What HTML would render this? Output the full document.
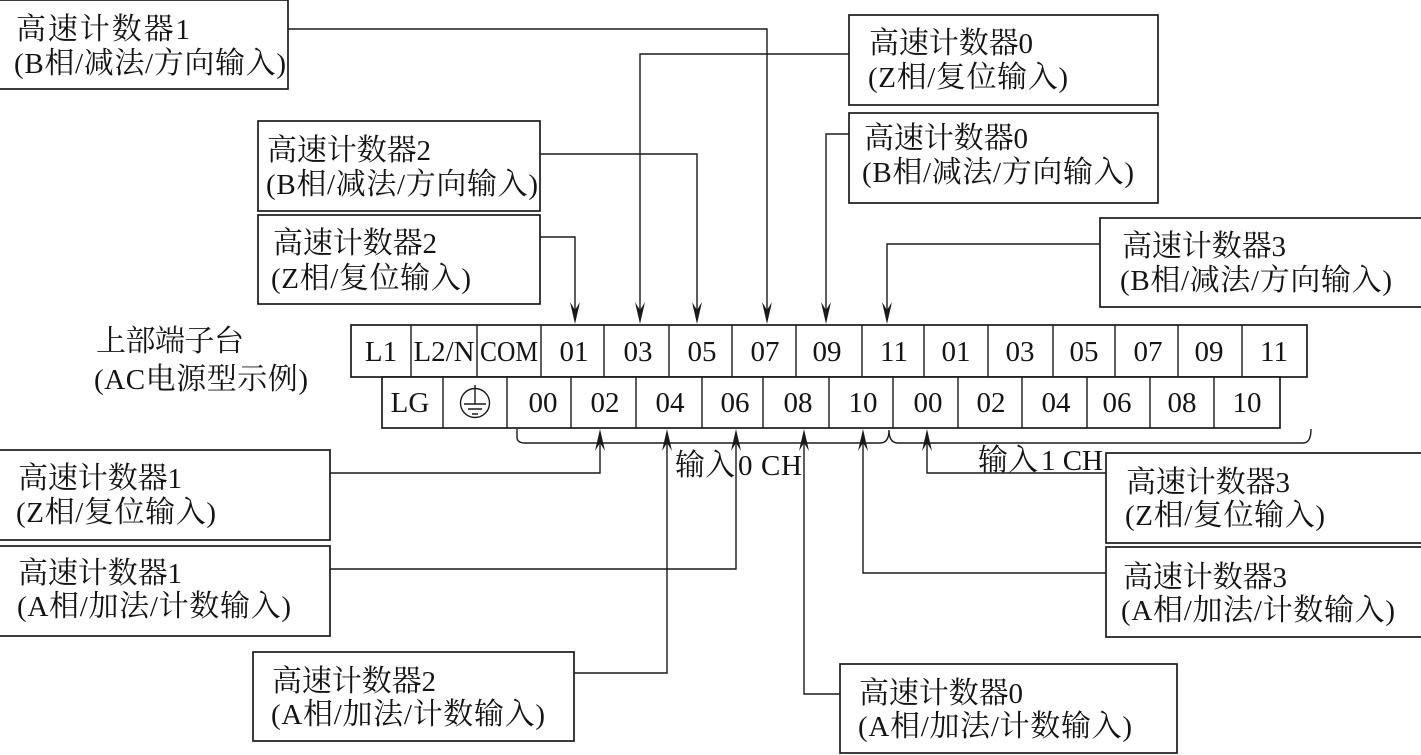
<!DOCTYPE html>
<html><head><meta charset="utf-8"><style>
html,body{margin:0;padding:0;background:#fff}
svg{display:block}
text{font-family:"Liberation Serif","Noto Serif CJK SC",serif;font-size:29px;fill:#141414}
tspan{font-size:30px}
.l{stroke:#1a1a1a;stroke-width:1.4;fill:none}
.b{stroke:#1a1a1a;stroke-width:1.7;fill:#fff}
.a{fill:#1a1a1a}
</style></head><body>
<svg xmlns="http://www.w3.org/2000/svg" width="1421" height="755" viewBox="0 0 1421 755">
<defs>
<path id="d" class="a" d="M0 0L-5 -22L0 -14L5 -22Z"/>
<path id="u" class="a" d="M0 0L-5 22L0 14L5 22Z"/>
</defs>
<!-- connectors -->
<path class="l" d="M288 29H767V320M849 54H640V320M540 154H697V320M849 134H826V320M540 237H575V320M1100 244H887V320"/>
<path class="l" d="M330 473H600V434M330 569H736V434M574 673H667V434M840 694H804V434M1106 573H863V434M1106 473H927V434"/>
<use href="#d" x="767" y="324"/><use href="#d" x="640" y="324"/><use href="#d" x="697" y="324"/><use href="#d" x="826" y="324"/><use href="#d" x="575" y="324"/><use href="#d" x="887" y="324"/>
<use href="#u" x="600" y="429"/><use href="#u" x="667" y="429"/><use href="#u" x="736" y="429"/><use href="#u" x="804" y="429"/><use href="#u" x="863" y="429"/><use href="#u" x="927" y="429"/>
<!-- braces -->
<path class="l" d="M517 429V437Q517 443 525 443H880Q889 443 889 430Q889 443 898 443H1303Q1311 443 1311 429"/>
<!-- terminal strip -->
<rect class="b" x="351" y="325" width="956" height="52"/>
<rect class="b" x="382" y="377" width="898" height="51"/>
<path class="l" d="M411 325V377M477 325V377M541 325V377M604 325V377M669 325V377M732 325V377M796 325V377M862 325V377M924 325V377M988 325V377M1053 325V377M1115 325V377M1178 325V377M1242 325V377"/>
<path class="l" d="M443 377V428M507 377V428M571 377V428M636 377V428M702 377V428M763 377V428M829 377V428M893 377V428M958 377V428M1022 377V428M1087 377V428M1150 377V428M1214 377V428"/>
<g text-anchor="middle">
<text x="381" y="361">L1</text><text x="444" y="361" textLength="61" lengthAdjust="spacingAndGlyphs">L2/N</text><text x="509" y="361" textLength="58" lengthAdjust="spacingAndGlyphs">COM</text>
<text x="574" y="361">01</text><text x="638" y="361">03</text><text x="702" y="361">05</text><text x="765" y="361">07</text><text x="827" y="361">09</text><text x="894" y="361">11</text><text x="956" y="361">01</text><text x="1020" y="361">03</text><text x="1084" y="361">05</text><text x="1148" y="361">07</text><text x="1209" y="361">09</text><text x="1274" y="361">11</text>
<text x="410" y="412">LG</text><text x="543" y="412">00</text><text x="605" y="412">02</text><text x="670" y="412">04</text><text x="735" y="412">06</text><text x="798" y="412">08</text><text x="863" y="412">10</text><text x="928" y="412">00</text><text x="991" y="412">02</text><text x="1056" y="412">04</text><text x="1117" y="412">06</text><text x="1182" y="412">08</text><text x="1247" y="412">10</text>
</g>
<!-- ground symbol -->
<circle class="l" cx="475" cy="403" r="14.5"/>
<path class="l" d="M475 385V404M464 404H486M468 409H482M472 414H478"/>
<!-- group labels -->
<text x="96" y="351" textLength="148"><tspan>上部端子台</tspan></text>
<text x="94" y="389" textLength="214">(AC<tspan>电源型示例</tspan>)</text>
<text x="675" y="475" textLength="60"><tspan>输入</tspan></text><text x="738" y="475" textLength="64">0 CH</text>
<text x="978" y="470" textLength="60"><tspan>输入</tspan></text><text x="1041" y="470" textLength="62">1 CH</text>
<!-- boxes -->
<rect class="b" x="-2" y="0" width="290" height="89"/>
<text x="16" y="39" textLength="174"><tspan>高速计数器</tspan>1</text><text x="14" y="73" textLength="272">(B<tspan>相</tspan>/<tspan>减法</tspan>/<tspan>方向输入</tspan>)</text>
<rect class="b" x="849" y="15" width="309" height="90"/>
<text x="869" y="53" textLength="164"><tspan>高速计数器</tspan>0</text><text x="868" y="87" textLength="200">(Z<tspan>相</tspan>/<tspan>复位输入</tspan>)</text>
<rect class="b" x="258" y="121" width="282" height="90"/>
<text x="267" y="160" textLength="164"><tspan>高速计数器</tspan>2</text><text x="266" y="194" textLength="272">(B<tspan>相</tspan>/<tspan>减法</tspan>/<tspan>方向输入</tspan>)</text>
<rect class="b" x="849" y="113" width="309" height="90"/>
<text x="864" y="148" textLength="164"><tspan>高速计数器</tspan>0</text><text x="862" y="182" textLength="272">(B<tspan>相</tspan>/<tspan>减法</tspan>/<tspan>方向输入</tspan>)</text>
<rect class="b" x="258" y="215" width="282" height="89"/>
<text x="273" y="253" textLength="164"><tspan>高速计数器</tspan>2</text><text x="271" y="288" textLength="200">(Z<tspan>相</tspan>/<tspan>复位输入</tspan>)</text>
<rect class="b" x="1100" y="218" width="323" height="89"/>
<text x="1122" y="256" textLength="164"><tspan>高速计数器</tspan>3</text><text x="1120" y="290" textLength="272">(B<tspan>相</tspan>/<tspan>减法</tspan>/<tspan>方向输入</tspan>)</text>
<rect class="b" x="-2" y="450" width="332" height="90"/>
<text x="18" y="488" textLength="164"><tspan>高速计数器</tspan>1</text><text x="16" y="522" textLength="200">(Z<tspan>相</tspan>/<tspan>复位输入</tspan>)</text>
<rect class="b" x="-2" y="546" width="332" height="90"/>
<text x="18" y="583" textLength="164"><tspan>高速计数器</tspan>1</text><text x="17" y="616" textLength="274">(A<tspan>相</tspan>/<tspan>加法</tspan>/<tspan>计数输入</tspan>)</text>
<rect class="b" x="253" y="652" width="321" height="89"/>
<text x="272" y="691" textLength="164"><tspan>高速计数器</tspan>2</text><text x="271" y="724" textLength="274">(A<tspan>相</tspan>/<tspan>加法</tspan>/<tspan>计数输入</tspan>)</text>
<rect class="b" x="840" y="664" width="337" height="89"/>
<text x="859" y="703" textLength="164"><tspan>高速计数器</tspan>0</text><text x="858" y="736" textLength="274">(A<tspan>相</tspan>/<tspan>加法</tspan>/<tspan>计数输入</tspan>)</text>
<rect class="b" x="1106" y="453" width="317" height="90"/>
<text x="1126" y="492" textLength="164"><tspan>高速计数器</tspan>3</text><text x="1125" y="525" textLength="200">(Z<tspan>相</tspan>/<tspan>复位输入</tspan>)</text>
<rect class="b" x="1106" y="547" width="317" height="90"/>
<text x="1123" y="587" textLength="164"><tspan>高速计数器</tspan>3</text><text x="1121" y="620" textLength="274">(A<tspan>相</tspan>/<tspan>加法</tspan>/<tspan>计数输入</tspan>)</text>
</svg>
</body></html>
